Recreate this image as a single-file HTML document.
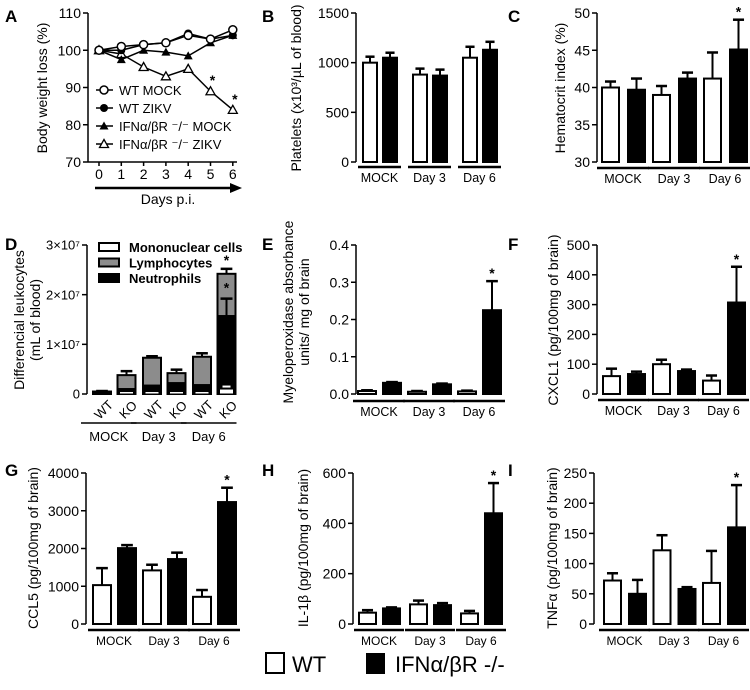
<!DOCTYPE html>
<html><head><meta charset="utf-8"><style>
html,body{margin:0;padding:0;background:#fff;}
svg{display:block;font-family:"Liberation Sans",Arial,sans-serif;}
</style></head><body>
<svg id="fig" width="750" height="690" viewBox="0 0 750 690" xmlns="http://www.w3.org/2000/svg"></svg>
<script>
// ---- Data ----
const days = [0,1,2,3,4,5,6];
const wtMock = [100,101,101.5,102,104,103,105.5];
const wtZikv = [100,100,101.5,102,104.5,103,104];
const koMock = [100,97.5,100,99.5,98.5,102,104];
const koZikv = [100,99,95.5,93,95,89,84];
const weightTicks = [70,80,90,100,110];

const groups = ["MOCK","Day 3","Day 6"];
const plateletWT = [1000,880,1050], plateletWTerr=[60,60,110];
const plateletKO = [1050,870,1130], plateletKOerr=[50,60,80];
const plateletTicks=[0,500,1000,1500];
const hctWT=[40,39,41.2], hctWTerr=[0.8,1.2,3.5];
const hctKO=[39.7,41.2,45.1], hctKOerr=[1.5,0.8,4];
const hctTicks=[30,35,40,45,50];
const mpoWT=[0.008,0.006,0.007], mpoWTerr=[0.002,0.002,0.002];
const mpoKO=[0.03,0.026,0.225], mpoKOerr=[0.002,0.002,0.078];
const mpoTicks=[0,0.1,0.2,0.3,0.4];
const cxcl1WT=[60,100,45], cxcl1WTerr=[25,15,17];
const cxcl1KO=[67,77,307], cxcl1KOerr=[8,5,120];
const cxcl1Ticks=[0,100,200,300,400,500];
const ccl5WT=[1030,1420,720], ccl5WTerr=[450,150,180];
const ccl5KO=[2010,1720,3230], ccl5KOerr=[80,170,380];
const ccl5Ticks=[0,1000,2000,3000,4000];
const il1WT=[45,78,42], il1WTerr=[10,15,10];
const il1KO=[62,75,440], il1KOerr=[4,8,120];
const il1Ticks=[0,200,400,600];
const tnfWT=[72,122,68], tnfWTerr=[12,25,53];
const tnfKO=[50,58,160], tnfKOerr=[23,3,70];
const tnfTicks=[0,50,100,150,200,250];

// Panel D (units of 1e7)
const leukoBars=["WT","KO","WT","KO","WT","KO"];
const mononuclear=[0.02,0.05,0.05,0.05,0.05,0.1];
const neutrophils=[0.02,0.1,0.17,0.22,0.18,1.57];
const lymphTotal=[0.05,0.38,0.73,0.42,0.75,2.42];
const totalErr=[0.01,0.08,0.03,0.07,0.07,0.1];
const neutErr=[0,0,0,0,0,0.35];
const monoErr=[0,0,0,0,0,0.05];
const leukoTicks=[0,1,2,3];
const leukoTickLabels=["0","1×10⁷","2×10⁷","3×10⁷"];

// ---- Helpers ----
const svg=document.getElementById('fig');
const NS="http://www.w3.org/2000/svg";
function mk(tag,attrs,parent){const e=document.createElementNS(NS,tag);for(const k in attrs)e.setAttribute(k,attrs[k]);(parent||svg).appendChild(e);return e;}
function txt(s,attrs,parent){const e=mk('text',attrs,parent);e.textContent=s;return e;}

function panelLetter(l,x,y){const t=txt(l,{x:x,y:y,'font-size':17,'font-weight':'bold'});

}

function yAxis(g,ax,yTop,yBot,min,max,ticks,labels,fs,dec){
  const sy=v=>yBot-(v-min)/(max-min)*(yBot-yTop);
  const a=mk('line',{x1:ax,y1:yTop,x2:ax,y2:yBot,stroke:'#000','stroke-width':1.5},g);
  
  
  ticks.forEach((v,i)=>{
    mk('line',{x1:ax-5,y1:sy(v),x2:ax,y2:sy(v),stroke:'#000','stroke-width':1.5},g);
    const t=txt(labels?labels[i]:(dec?v.toFixed(dec):String(v)),{x:ax-7,y:sy(v)+fs*0.36,'font-size':fs,'text-anchor':'end'},g);
    
    
  });
  return sy;
}
function yTitle(g,lines,cx,cy,fs){
  lines.forEach((s,i)=>{
    const x=cx+i*fs*1.15;
    const t=txt(s,{x:x,y:cy,'font-size':fs,'text-anchor':'middle',transform:`rotate(-90 ${x} ${cy})`},g);
    
    
  });
}
function errBar(g,cx,yTop,yErr,capW){
  mk('line',{x1:cx,y1:yTop,x2:cx,y2:yErr,stroke:'#000','stroke-width':2},g);
  mk('line',{x1:cx-capW/2,y1:yErr,x2:cx+capW/2,y2:yErr,stroke:'#000','stroke-width':2.5},g);
}
function barPanel(o){
  const g=mk('g',{});
  
  
  const sy=yAxis(g,o.ax,o.yTop,o.yBot,o.min,o.max,o.ticks,null,o.fs,o.dec);
  const bx=(gi,s)=>o.x0+gi*o.gw+s*o.pair;
  [[o.wt,o.wtErr,'#fff'],[o.ko,o.koErr,'#000']].forEach((ser,s)=>{
    ser[0].forEach((v,gi)=>{
      const x=bx(gi,s), y=sy(v);
      const r=mk('rect',{x:x,y:y,width:o.bw,height:Math.max(o.yBot-y,1),fill:ser[2],stroke:'#000','stroke-width':2},g);
      
      
      errBar(g,x+o.bw/2,y,sy(v+ser[1][gi]),o.bw*0.65);
      if(o.star && o.star[s]===gi){
        const t=txt('*',{x:x+o.bw/2,y:sy(v+ser[1][gi])-3,'font-size':14,'font-weight':'bold','text-anchor':'middle'},g);
        
        
      }
    });
  });
  groups.forEach((lab,gi)=>{
    const x1=bx(gi,0)-5,x2=bx(gi,1)+o.bw+4;
    mk('line',{x1:x1,y1:o.gy,x2:x2,y2:o.gy,stroke:'#000','stroke-width':2.5},g);
    const t=txt(lab,{x:(x1+x2)/2,y:o.gy+15,'font-size':o.gfs,'text-anchor':'middle'},g);
    
    
  });
  yTitle(g,o.title,o.tx,o.ty,o.tfs);
}

// ---- Panel A ----
(function(){
  const g=mk('g',{});
  
  
  const ax=88,yTop=13,yBot=162;
  const sy=yAxis(g,ax,yTop,yBot,70,110,weightTicks,null,14);
  const sx=d=>99+d*22.3;
  mk('line',{x1:ax,y1:yBot,x2:237,y2:yBot,stroke:'#000','stroke-width':1.5},g);
  days.forEach(d=>{
    mk('line',{x1:sx(d),y1:yBot,x2:sx(d),y2:yBot+4,stroke:'#000','stroke-width':1.5},g);
    const t=txt(String(d),{x:sx(d),y:yBot+17,'font-size':14,'text-anchor':'middle'},g);
    
    
  });
  mk('line',{x1:95,y1:188,x2:232,y2:188,stroke:'#000','stroke-width':2.5},g);
  const ar=mk('polygon',{points:'230,183 242,188 230,193',fill:'#000'},g);
  
  
  const xt=txt('Days p.i.',{x:168,y:204,'font-size':14,'text-anchor':'middle'},g);
  
  
  yTitle(g,['Body weight loss (%)'],47,88,14);
  function marker(type,x,y,p){
    if(type==='oc')return mk('circle',{cx:x,cy:y,r:4,fill:'#fff',stroke:'#000','stroke-width':1.5},p);
    if(type==='fc')return mk('circle',{cx:x,cy:y,r:4,fill:'#000'},p);
    if(type==='ft')return mk('polygon',{points:`${x-4.5},${y+3.5} ${x+4.5},${y+3.5} ${x},${y-4.5}`,fill:'#000'},p);
    return mk('polygon',{points:`${x-4.5},${y+3.5} ${x+4.5},${y+3.5} ${x},${y-4.5}`,fill:'#fff',stroke:'#000','stroke-width':1.3},p);
  }
  const series=[[koZikv,'ot','ifnar-zikv'],[koMock,'ft','ifnar-mock'],[wtZikv,'fc','wt-zikv'],[wtMock,'oc','wt-mock']];
  series.forEach(s=>{
    const p=mk('g',{},g);
    
    
    mk('polyline',{points:s[0].map((v,i)=>sx(days[i])+','+sy(v)).join(' '),fill:'none',stroke:'#000','stroke-width':1.5},p);
    s[0].forEach((v,i)=>marker(s[1],sx(days[i]),sy(v),p));
  });
  [5,6].forEach(d=>{const t=txt('*',{x:sx(d)+2,y:sy(koZikv[d])-6,'font-size':14,'font-weight':'bold','text-anchor':'middle'},g);
    
    });
  const leg=[['oc','WT MOCK'],['fc','WT ZIKV'],['ft','IFNα/βR ⁻/⁻ MOCK'],['ot','IFNα/βR ⁻/⁻ ZIKV']];
  leg.forEach((l,i)=>{
    const y=90+i*18;
    const e=mk('g',{},g);
    
    
    mk('line',{x1:96,y1:y,x2:113,y2:y,stroke:'#000','stroke-width':1.5},e);
    marker(l[0],104,y,e);
    txt(l[1],{x:119,y:y+5,'font-size':13},e);
  });
})();

// ---- Panel D ----
(function(){
  const g=mk('g',{});
  
  
  const sy=yAxis(g,87,245,394,0,3,leukoTicks,leukoTickLabels,13);
  const x0=93,bw=18;
  const bx=i=>x0+Math.floor(i/2)*50+(i%2)*24.5;
  leukoBars.forEach((lab,i)=>{
    const x=bx(i);
    const b=mk('g',{},g);
    
    
    mk('rect',{x:x,y:sy(lymphTotal[i]),width:bw,height:394-sy(lymphTotal[i]),fill:'#8c8c8c',stroke:'#000','stroke-width':2},b);
    mk('rect',{x:x,y:sy(neutrophils[i]),width:bw,height:394-sy(neutrophils[i]),fill:'#000',stroke:'#000','stroke-width':2},b);
    mk('rect',{x:x+2,y:sy(mononuclear[i]),width:bw-4,height:Math.max(394-sy(mononuclear[i]),1),fill:'#fff',stroke:'#000','stroke-width':1},b);
    errBar(b,x+bw/2,sy(lymphTotal[i]),sy(lymphTotal[i]+totalErr[i]),bw*0.65);
    if(neutErr[i]>0){
      mk('line',{x1:x+bw/2,y1:sy(neutrophils[i]),x2:x+bw/2,y2:sy(neutrophils[i]+neutErr[i]),stroke:'#000','stroke-width':2},b);
      mk('line',{x1:x+3,y1:sy(neutrophils[i]+neutErr[i]),x2:x+bw-3,y2:sy(neutrophils[i]+neutErr[i]),stroke:'#000','stroke-width':2.5},b);
      txt('*',{x:x+bw/2,y:sy(neutrophils[i]+neutErr[i])-6,'font-size':14,'font-weight':'bold','text-anchor':'middle'},b);
      txt('*',{x:x+bw/2,y:sy(lymphTotal[i]+totalErr[i])-4,'font-size':14,'font-weight':'bold','text-anchor':'middle'},b);
    }
    if(monoErr[i]>0){
      mk('line',{x1:x+5,y1:sy(mononuclear[i]+monoErr[i]),x2:x+bw-5,y2:sy(mononuclear[i]+monoErr[i]),stroke:'#fff','stroke-width':2},b);
    }
    const lx=x+bw/2+2;
    const t=txt(lab,{x:lx,y:414,'font-size':13,'text-anchor':'middle',transform:`rotate(-45 ${lx} 410)`},g);
    
    
  });
  groups.forEach((lab,gi)=>{
    const x1=bx(gi*2)-12,x2=bx(gi*2+1)+bw+1;
    mk('line',{x1:x1,y1:423,x2:x2,y2:423,stroke:'#000','stroke-width':1.5},g);
    const t=txt(lab,{x:(x1+x2)/2,y:441,'font-size':13,'text-anchor':'middle'},g);
    
    
  });
  yTitle(g,['Differencial leukocytes','(mL of blood)'],24,320,14);
  [['#fff','Mononuclear cells'],['#8c8c8c','Lymphocytes'],['#000','Neutrophils']].forEach((l,i)=>{
    const y=247+i*15.5;
    const e=mk('g',{},g);
    
    
    mk('rect',{x:99,y:y-4,width:20,height:8,fill:l[0],stroke:'#000','stroke-width':2},e);
    txt(l[1],{x:129,y:y+5,'font-size':13,'font-weight':'bold'},e);
  });
})();

// ---- Bar panels ----
barPanel({name:'panel-b-platelets-chart',ax:356,yTop:13,yBot:162,min:0,max:1500,ticks:plateletTicks,fs:14,
  wt:plateletWT,wtErr:plateletWTerr,ko:plateletKO,koErr:plateletKOerr,x0:363,pair:20,gw:50,bw:14,gy:167,gfs:12.5,
  title:['Platelets (x10³/µL of blood)'],tx:301,ty:88,tfs:14});
barPanel({name:'panel-c-hematocrit-chart',ax:597,yTop:13,yBot:162,min:30,max:50,ticks:hctTicks,fs:14,
  wt:hctWT,wtErr:hctWTerr,ko:hctKO,koErr:hctKOerr,x0:602,pair:26,gw:51,bw:17,gy:168,gfs:12.5,star:[-1,2],
  title:['Hematocrit index (%)'],tx:565,ty:88,tfs:14});
barPanel({name:'panel-e-mpo-chart',ax:356,yTop:245,yBot:394,min:0,max:0.4,ticks:mpoTicks,fs:14,dec:1,
  wt:mpoWT,wtErr:mpoWTerr,ko:mpoKO,koErr:mpoKOerr,x0:358,pair:25,gw:50,bw:18,gy:401,gfs:12.5,star:[-1,2],
  title:['Myeloperoxidase absorbance','units/ mg of brain'],tx:293,ty:312,tfs:14});
barPanel({name:'panel-f-cxcl1-chart',ax:597,yTop:245,yBot:394,min:0,max:500,ticks:cxcl1Ticks,fs:14,
  wt:cxcl1WT,wtErr:cxcl1WTerr,ko:cxcl1KO,koErr:cxcl1KOerr,x0:603,pair:25,gw:50,bw:17,gy:400,gfs:12.5,star:[-1,2],
  title:['CXCL1 (pg/100mg of brain)'],tx:558,ty:320,tfs:14});
barPanel({name:'panel-g-ccl5-chart',ax:86,yTop:473,yBot:624,min:0,max:4000,ticks:ccl5Ticks,fs:14,
  wt:ccl5WT,wtErr:ccl5WTerr,ko:ccl5KO,koErr:ccl5KOerr,x0:93,pair:25,gw:50,bw:18,gy:630,gfs:12,star:[-1,2],
  title:['CCL5 (pg/100mg of brain)'],tx:38,ty:548,tfs:14});
barPanel({name:'panel-h-il1b-chart',ax:353,yTop:473,yBot:624,min:0,max:600,ticks:il1Ticks,fs:14,
  wt:il1WT,wtErr:il1WTerr,ko:il1KO,koErr:il1KOerr,x0:359,pair:24,gw:51,bw:17,gy:630,gfs:12,star:[-1,2],
  title:['IL-1β (pg/100mg of brain)'],tx:308,ty:548,tfs:14});
barPanel({name:'panel-i-tnfa-chart',ax:594,yTop:473,yBot:624,min:0,max:250,ticks:tnfTicks,fs:14,
  wt:tnfWT,wtErr:tnfWTerr,ko:tnfKO,koErr:tnfKOerr,x0:604,pair:25,gw:49.5,bw:17,gy:630,gfs:12,star:[-1,2],
  title:['TNFα (pg/100mg of brain)'],tx:557,ty:548,tfs:14});

// ---- Panel letters ----
[['A',5,22],['B',262,22],['C',508,22],['D',5,250],['E',262,250],['F',508,250],['G',5,476],['H',262,476],['I',508,476]].forEach(p=>panelLetter(p[0],p[1],p[2]));

// ---- Bottom legend ----
(function(){
  const g=mk('g',{});
  
  
  const a=mk('g',{},g);
  
  
  mk('rect',{x:266,y:653,width:18,height:20,fill:'#fff',stroke:'#000','stroke-width':2},a);
  txt('WT',{x:292,y:672,'font-size':22},a);
  const b=mk('g',{},g);
  
  
  mk('rect',{x:366,y:653,width:19,height:21,fill:'#000'},b);
  txt('IFNα/βR -/-',{x:395,y:672,'font-size':22},b);
})();
</script>
</body></html>
